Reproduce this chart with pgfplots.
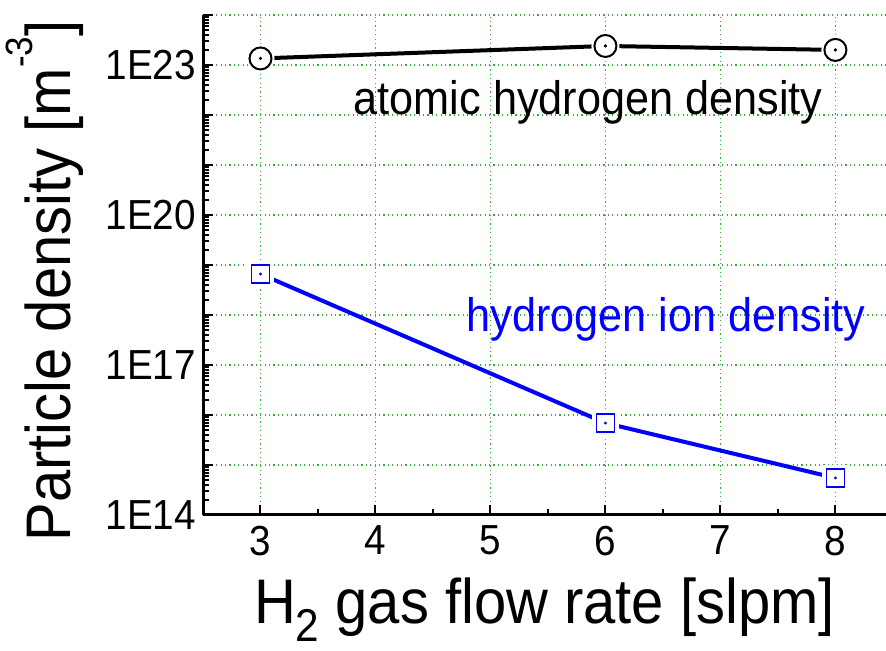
\documentclass[border=0pt]{standalone}
\usepackage{pgfplots}
\usepackage{pgfplotstable}
\pgfplotsset{compat=1.18}
\usepackage{fontspec}
\setmainfont{Liberation Sans}[FakeStretch=0.92]
\definecolor{gridgreen}{rgb}{0.25,0.65,0.25}
\pgfplotstableread{
x y
3 1.35e23
6 2.4e23
8 2.0e23
}\atomic
\pgfplotstableread{
x y
3 6.6e18
6 6.9e15
8 5.5e14
}\ion
\begin{document}
\begin{tikzpicture}
\begin{semilogyaxis}[
  at={(0,0)}, anchor=south west, scale only axis,
  width=341.5pt, height=250pt,
  xmin=2.5, xmax=8.44, ymin=1e14, ymax=1e24,
  axis x line*=bottom, axis y line*=left,
  every outer x axis line/.append style={-},
  every outer y axis line/.append style={-},
  x axis line style={-}, y axis line style={-},
  axis line style={line width=1.5pt, black},
  clip=false,
  tick align=inside,
  xtick pos=bottom, ytick pos=left,
  xtick={3,4,5,6,7,8},
  minor xtick={3.5,4.5,5.5,6.5,7.5},
  ytick={1e14,1e15,1e16,1e17,1e18,1e19,1e20,1e21,1e22,1e23,1e24},
  yticklabels={1E14,,,1E17,,,1E20,,,1E23,},
  minor ytick={2e14,3e14,4e14,5e14,6e14,7e14,8e14,9e14,
    2e15,3e15,4e15,5e15,6e15,7e15,8e15,9e15,
    2e16,3e16,4e16,5e16,6e16,7e16,8e16,9e16,
    2e17,3e17,4e17,5e17,6e17,7e17,8e17,9e17,
    2e18,3e18,4e18,5e18,6e18,7e18,8e18,9e18,
    2e19,3e19,4e19,5e19,6e19,7e19,8e19,9e19,
    2e20,3e20,4e20,5e20,6e20,7e20,8e20,9e20,
    2e21,3e21,4e21,5e21,6e21,7e21,8e21,9e21,
    2e22,3e22,4e22,5e22,6e22,7e22,8e22,9e22,
    2e23,3e23,4e23,5e23,6e23,7e23,8e23,9e23},
  major tick length=5pt, minor tick length=3pt,
  every tick/.style={black, line width=1pt},
  xmajorgrids, ymajorgrids,
  major grid style={gridgreen, line width=0.6pt, dash pattern=on 0.6pt off 1.6pt},
  /pgf/number format/assume math mode=true,
  xticklabel style={font=\fontsize{21}{21}\selectfont, yshift=-2pt},
  yticklabel style={font=\fontsize{21}{21}\selectfont},
  xlabel={H\raisebox{-0.27em}{\fontsize{23}{23}\selectfont 2} gas flow rate [slpm]},
  ylabel={Particle density [m\raisebox{0.6em}{\fontsize{19}{19}\selectfont -3}]},
  xlabel style={at={(axis description cs:0.5,0)}, anchor=base, yshift=-54.5pt, font=\fontsize{31.5}{31.5}\selectfont},
  ylabel style={at={(axis description cs:-0.1947,0.468)}, anchor=base, font=\fontsize{31.5}{31.5}\selectfont},
]
\addplot[black, line width=2pt] table {\atomic};
\addplot[only marks, mark=*, mark size=6.8pt, white] table {\atomic};
\addplot[only marks, mark=o, mark size=5.5pt, black, mark options={line width=1pt, fill=white}] table {\atomic};
\addplot[only marks, mark=*, mark size=0.6pt, black] table {\atomic};

\addplot[blue, line width=2pt] table {\ion};
\addplot[only marks, mark=square*, mark size=6.5pt, white] table {\ion};
\addplot[only marks, mark=square, mark size=4.5pt, blue, mark options={line width=0.7pt, fill=white}] table {\ion};
\addplot[only marks, mark=*, mark size=0.5pt, blue] table {\ion};

\node[anchor=base, font=\fontsize{23.5}{23.5}\selectfont] at (axis cs:5.85,1e22) {atomic hydrogen density};
\node[anchor=base, text=blue, font=\fontsize{23.5}{23.5}\selectfont] at (axis cs:6.526,4.57e17) {hydrogen ion density};
\end{semilogyaxis}
\pgfresetboundingbox
\useasboundingbox (-101.5pt,-68pt) rectangle (341.5pt,257.5pt);
\end{tikzpicture}
\end{document}
